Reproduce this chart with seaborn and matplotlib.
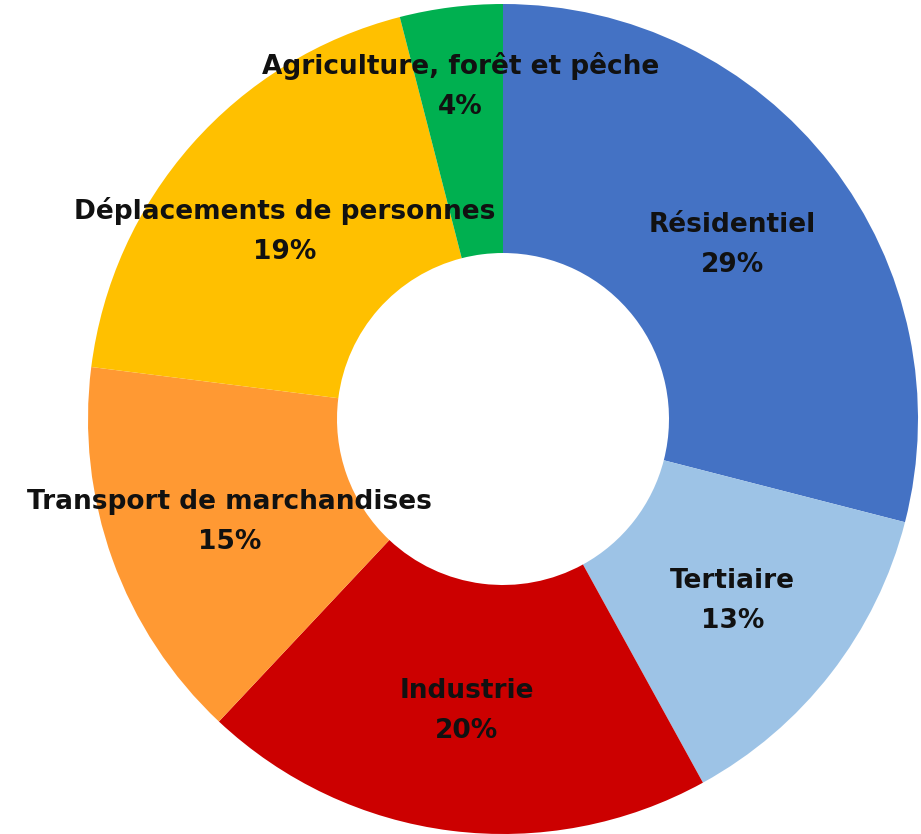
"""donut chart: répartition par secteur"""

import numpy as np
import matplotlib.pyplot as plt
import seaborn as sns

secteurs = [
    "Résidentiel",
    "Tertiaire",
    "Industrie",
    "Transport de marchandises",
    "Déplacements de personnes",
    "Agriculture, forêt et pêche",
]
parts = [29, 13, 20, 15, 19, 4]
couleurs = ["#4472C4", "#9DC3E6", "#CC0000", "#FF9933", "#FFC000", "#00B050"]
# distance relative du libellé au centre
dist_label = [0.70, 0.70, 0.70, 0.70, 0.70, 0.82]

sns.set_theme(style="white")
plt.rcParams["font.family"] = ["DejaVu Sans"]

fig = plt.figure(figsize=(9.21, 8.34), dpi=100)
ax = fig.add_axes([88 / 921, 0.0, 830 / 921, 830 / 834])

wedges, _ = ax.pie(
    parts,
    colors=couleurs,
    startangle=90,
    counterclock=False,
    radius=1,
    wedgeprops=dict(width=0.6, linewidth=0),
)

for w, nom, p, d in zip(wedges, secteurs, parts, dist_label):
    ang = np.deg2rad((w.theta1 + w.theta2) / 2)
    ax.annotate(
        f"{nom}\n{p}%",
        xy=(d * np.cos(ang), d * np.sin(ang)),
        xytext=(0, -3),
        textcoords="offset points",
        ha="center",
        va="center",
        fontsize=19,
        fontweight="bold",
        linespacing=1.7,
        color="#111111",
    )

ax.set_xlim(-1, 1)
ax.set_ylim(-1, 1)
ax.set_aspect("equal")
ax.axis("off")

fig.savefig("out.png", dpi=100)
